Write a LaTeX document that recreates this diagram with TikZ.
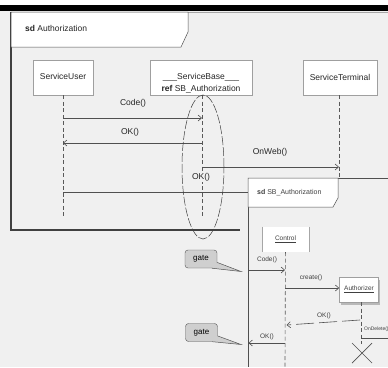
\documentclass[tikz,border=0pt]{standalone}
\usepackage{fontspec}
\setmainfont{Liberation Sans}
\usetikzlibrary{arrows.meta,shapes.geometric}
\definecolor{bg}{HTML}{F0F0F0}
\definecolor{ln}{HTML}{505050}
\begin{document}
\begin{tikzpicture}[x=1pt,y=-1pt,
  head/.style={draw=gray!75, fill=white, line width=0.5pt, minimum height=35pt, inner sep=0pt},
  life/.style={draw=gray!70!black, line width=0.6pt, dash pattern=on 4pt off 2.5pt},
  msg/.style={draw=ln, line width=0.6pt, -{Straight Barb[length=3.5pt,width=6pt]}},
  ret/.style={draw=ln, line width=0.6pt, dash pattern=on 18pt off 5pt, -{Straight Barb[length=3.5pt,width=6pt]}},
  lbl/.style={font=\fontsize{8.5}{9}\selectfont, text=black!85, inner sep=0pt},
  small/.style={font=\fontsize{6.5}{7}\selectfont, text=black!75, inner sep=0pt},
  gatebox/.style={draw=gray!65!black, fill=gray!38, rounded corners=3pt, minimum width=32pt, minimum height=18pt, inner sep=0pt, font=\fontsize{8}{9}\selectfont},
  gatetail/.style={draw=gray!65!black, line width=0.5pt},
  framebox/.style={draw=ln, line width=0.5pt, fill=white}]
\useasboundingbox (0,0) rectangle (388,367);
% page background and top bar
\fill[bg] (0,0) rectangle (388,367);
\fill[white] (0,0) rectangle (388,5);
\fill[black] (0,5) rectangle (388,10.5);

% outer interaction frame
\draw[gray!70, line width=0.5pt] (11,12) -- (388,12);
\draw[ln!80!black, line width=1.6pt] (11,12) -- (11,230) -- (240,230);
\draw[framebox] (11,12) -- (188,12) -- (188,32) -- (181,47) -- (11,47) -- cycle;
\node[lbl, anchor=west] (title) at (25,28) {\textbf{sd} Authorization};

% lifeline heads
\node[head, minimum width=60pt] (su) at (63,77.5) {};
\node[lbl] (sutxt) at (63,76.5) {ServiceUser};
\node[head, minimum width=102pt] (sb) at (201,77.5) {};
\node[lbl] (sbtxt) at (201,77) {\_\_\_ServiceBase\_\_\_};
\node[lbl] (sbref) at (201,89.5) {\textbf{ref} SB\_Authorization};
\node[head, minimum width=74pt] (st) at (340,77.5) {};
\node[lbl] (sttxt) at (340,77) {ServiceTerminal};

% lifelines
\coordinate (sue) at (63,218);
\coordinate (sbs) at (202,95);
\coordinate (sbe) at (202,218);
\coordinate (sts) at (339,95);
\coordinate (ste) at (339,178);
\draw[life] (su) -- (sue);
\draw[life] (sbs) -- (sbe);
\draw[life] (sts) -- (ste);

% messages
\coordinate (m1a) at (63,118);  \coordinate (m1b) at (202,118);
\coordinate (m2a) at (202,143); \coordinate (m2b) at (63,143);
\coordinate (m3a) at (202,167); \coordinate (m3b) at (339,167);
\coordinate (m4a) at (63,192);  \coordinate (m4b) at (248,192);
\draw[msg] (m1a) -- (m1b);
\draw[msg] (m2a) -- (m2b);
\draw[msg] (m3a) -- (m3b);
\draw[draw=ln, line width=0.6pt] (m4a) -- (m4b);
\node[lbl] (l1) at (133,103.5) {Code()};
\node[lbl] (l2) at (130,132) {OK()};
\node[lbl] (l3) at (270,152.5) {OnWeb()};
\node[lbl, fill=bg, inner sep=1pt] (l4) at (201,177.5) {OK()};

% decomposed part
\node[ellipse, draw=gray!50!black, line width=0.5pt, dash pattern=on 9pt off 2pt,
      minimum width=42pt, minimum height=144pt, inner sep=0pt] (part) at (203,167) {};

% inner interaction frame
\fill[bg] (248,178) rectangle (388,367);
\draw[ln, line width=0.5pt] (248,178) -- (388,178);
\draw[ln, line width=1pt] (248,178) -- (248,367);
\draw[framebox] (248,178) -- (338,178) -- (338,198) -- (333,207) -- (248,207) -- cycle;
\node[small, anchor=west, font=\fontsize{7}{8}\selectfont] (ititle) at (257,193) {\textbf{sd} SB\_Authorization};

% Control lifeline
\node[fill=white, minimum width=47pt, minimum height=25pt, inner sep=0pt] (ctrl) at (285.5,239.5) {};
\draw[gray!70, line width=0.6pt] (ctrl.north west) -- (ctrl.south west);
\draw[gray!70, line width=0.6pt] (ctrl.north east) -- (ctrl.south east);
\node[small] (ctrltxt) at (285.5,239.5) {\underline{Control}};
\coordinate (cte) at (285,367);
\draw[life] (ctrl) -- (cte);

% Authorizer lifeline
\fill[gray!55] (341,280) rectangle (380,305);
\node[head, minimum width=39pt, minimum height=25pt] (auth) at (359,289.5) {};
\node[small] (authtxt) at (359,289.5) {\underline{Authorizer}};
\coordinate (aus) at (361,302);
\coordinate (aue) at (361,344);
\draw[life] (aus) -- (aue);
\draw[ln, line width=0.7pt] (352,343) -- (372,363) (352,363) -- (372,343);

% inner messages
\coordinate (n1a) at (248,270); \coordinate (n1b) at (285,270);
\coordinate (n2a) at (285,288);
\coordinate (n3a) at (360,320); \coordinate (n3b) at (286.5,325);
\coordinate (n4a) at (361,338); \coordinate (n4b) at (390,338);
\coordinate (n5a) at (285,343); \coordinate (n5b) at (248.5,343);
\draw[msg] (n1a) -- (n1b);
\draw[msg] (n2a) -- (auth.west |- n2a);
\draw[ret] (n3a) -- (n3b);
\draw[draw=ln, line width=0.6pt] (n4a) -- (n4b);
\draw[msg] (n5a) -- (n5b);
\node[small] (k1) at (267,260) {Code()};
\node[small] (k2) at (311,278) {create()};
\node[small, fill=bg, inner sep=1pt] (k3) at (324,316) {OK()};
\node[small, anchor=west, font=\fontsize{5}{6}\selectfont] (k4) at (364,329) {OnDelete()};
\node[small] (k5) at (267,336.5) {OK()};

% gates
\coordinate (gt1) at (241,271.5);
\coordinate (gt2) at (241,344.5);
\node[gatebox] (g1) at (201,259) {gate};
\node[gatebox] (g2) at (201.5,332.5) {gate};
\fill[gray!38] (g1.-12) -- (gt1) -- (g1.-40) -- cycle;
\draw[gatetail] (g1.-12) -- (gt1) -- (g1.-40);
\fill[gray!38] (g2.-12) -- (gt2) -- (g2.-40) -- cycle;
\draw[gatetail] (g2.-12) -- (gt2) -- (g2.-40);
\end{tikzpicture}
\end{document}
